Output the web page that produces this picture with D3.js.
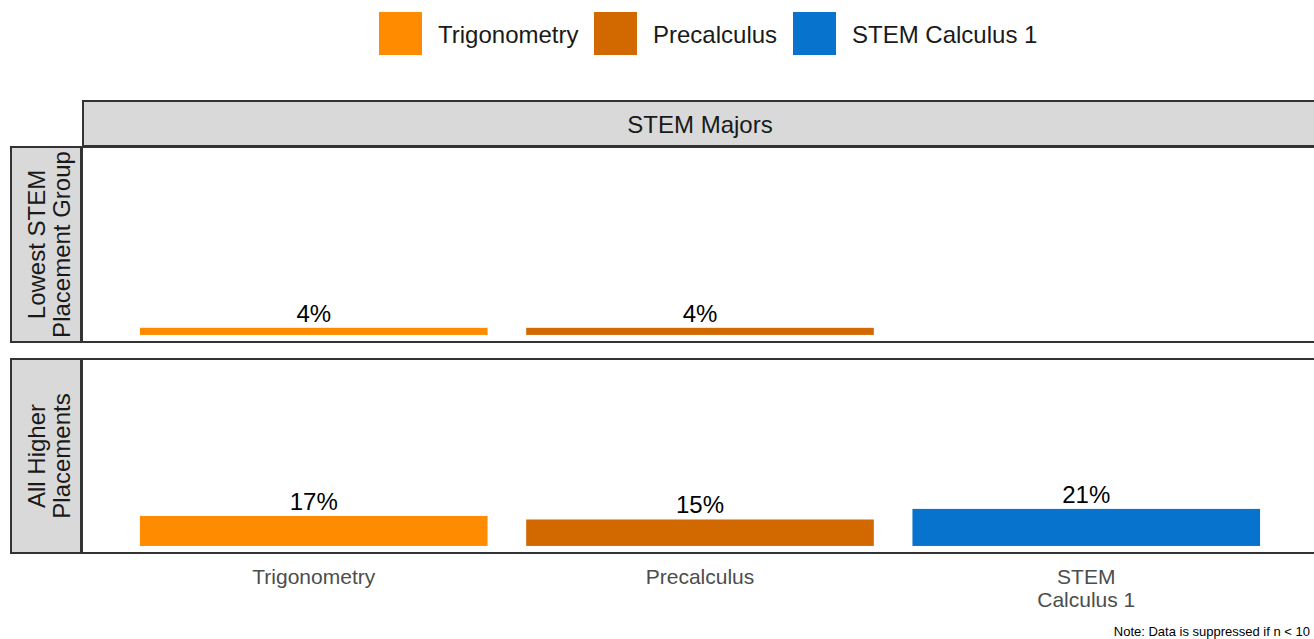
<!DOCTYPE html>
<html>
<head>
<meta charset="utf-8">
<script src="https://cdn.jsdelivr.net/npm/d3@7"></script>
<style>
  body { margin: 0; background: #fff; }
  svg { display: block; font-family: "Liberation Sans", Arial, sans-serif; }
</style>
</head>
<body>
<svg id="chart" width="1314" height="639"></svg>
<script>
// chart data
let courses = ['Trigonometry', 'Precalculus', 'STEM Calculus 1']
let courseLabels = [['Trigonometry'], ['Precalculus'], ['STEM', 'Calculus 1']]
let colors = ['#FF8C00', '#D26900', '#0773CC']
let groups = [['Lowest STEM', 'Placement Group'], ['All Higher', 'Placements']]
let lowestValues = [4, 4, null]      // null = suppressed
let higherValues = [17, 15, 21]
let panelTitle = 'STEM Majors'
let note = 'Note: Data is suppressed if n < 10'

let svg = d3.select('#chart')

let panelLeft = 82
let panelRight = 1318
let panels = [
  {top: 147, bottom: 342, values: lowestValues, label: groups[0]},
  {top: 359, bottom: 553, values: higherValues, label: groups[1]}
]

let x = d3.scaleBand()
  .domain(courses)
  .range([panelLeft, panelRight])
  .paddingInner(0.1)
  .paddingOuter(0.15)

// legend
let legend = svg.append('g')
let legendX = [379, 594, 793]
courses.forEach((c, i) => {
  legend.append('rect')
    .attr('x', legendX[i]).attr('y', 12)
    .attr('width', 43).attr('height', 43)
    .attr('fill', colors[i])
  legend.append('text')
    .attr('x', legendX[i] + 59).attr('y', 43)
    .attr('font-size', 24).attr('fill', '#1a1a1a')
    .text(c)
})

// top strip
svg.append('rect')
  .attr('x', panelLeft + 1).attr('y', 101)
  .attr('width', 1240).attr('height', 45)
  .attr('fill', '#d9d9d9').attr('stroke', '#333').attr('stroke-width', 2)
svg.append('text')
  .attr('x', 700).attr('y', 133)
  .attr('text-anchor', 'middle')
  .attr('font-size', 24).attr('fill', '#1a1a1a')
  .text(panelTitle)

panels.forEach((p) => {
  let y = d3.scaleLinear().domain([-4, 106]).range([p.bottom, p.top])

  // side strip
  svg.append('rect')
    .attr('x', 11).attr('y', p.top)
    .attr('width', 70).attr('height', p.bottom - p.top)
    .attr('fill', '#d9d9d9').attr('stroke', '#333').attr('stroke-width', 2)
  let cy = (p.top + p.bottom) / 2
  let lab = svg.append('text')
    .attr('transform', 'translate(46,' + cy + ') rotate(-90)')
    .attr('text-anchor', 'middle')
    .attr('font-size', 24).attr('fill', '#1a1a1a')
  p.label.forEach((l, i) => {
    lab.append('tspan').attr('x', 0).attr('dy', i === 0 ? -1 : 25).text(l)
  })

  // panel
  svg.append('rect')
    .attr('x', panelLeft).attr('y', p.top)
    .attr('width', panelRight - panelLeft).attr('height', p.bottom - p.top)
    .attr('fill', '#fff').attr('stroke', '#333').attr('stroke-width', 2)

  let data = courses.map((c, i) => ({course: c, value: p.values[i], color: colors[i]}))
    .filter((d) => d.value !== null)

  svg.append('g').selectAll('rect')
    .data(data)
    .enter()
    .append('rect')
    .attr('x', (d) => x(d.course))
    .attr('width', x.bandwidth())
    .attr('y', (d) => y(d.value))
    .attr('height', (d) => y(0) - y(d.value))
    .attr('fill', (d) => d.color)

  svg.append('g').selectAll('text')
    .data(data)
    .enter()
    .append('text')
    .attr('x', (d) => x(d.course) + x.bandwidth() / 2)
    .attr('y', (d) => y(d.value) - 6)
    .attr('text-anchor', 'middle')
    .attr('font-size', 24).attr('fill', '#000')
    .text((d) => d.value + '%')
})

// x axis labels
courses.forEach((c, i) => {
  let t = svg.append('text')
    .attr('x', x(c) + x.bandwidth() / 2)
    .attr('y', 584)
    .attr('text-anchor', 'middle')
    .attr('font-size', 21).attr('fill', '#4d4d4d')
  courseLabels[i].forEach((l, j) => {
    t.append('tspan').attr('x', x(c) + x.bandwidth() / 2).attr('dy', j === 0 ? 0 : 23).text(l)
  })
})

svg.append('text')
  .attr('x', 1310).attr('y', 636)
  .attr('text-anchor', 'end')
  .attr('font-size', 13).attr('fill', '#000')
  .text(note)
</script>
</body>
</html>
